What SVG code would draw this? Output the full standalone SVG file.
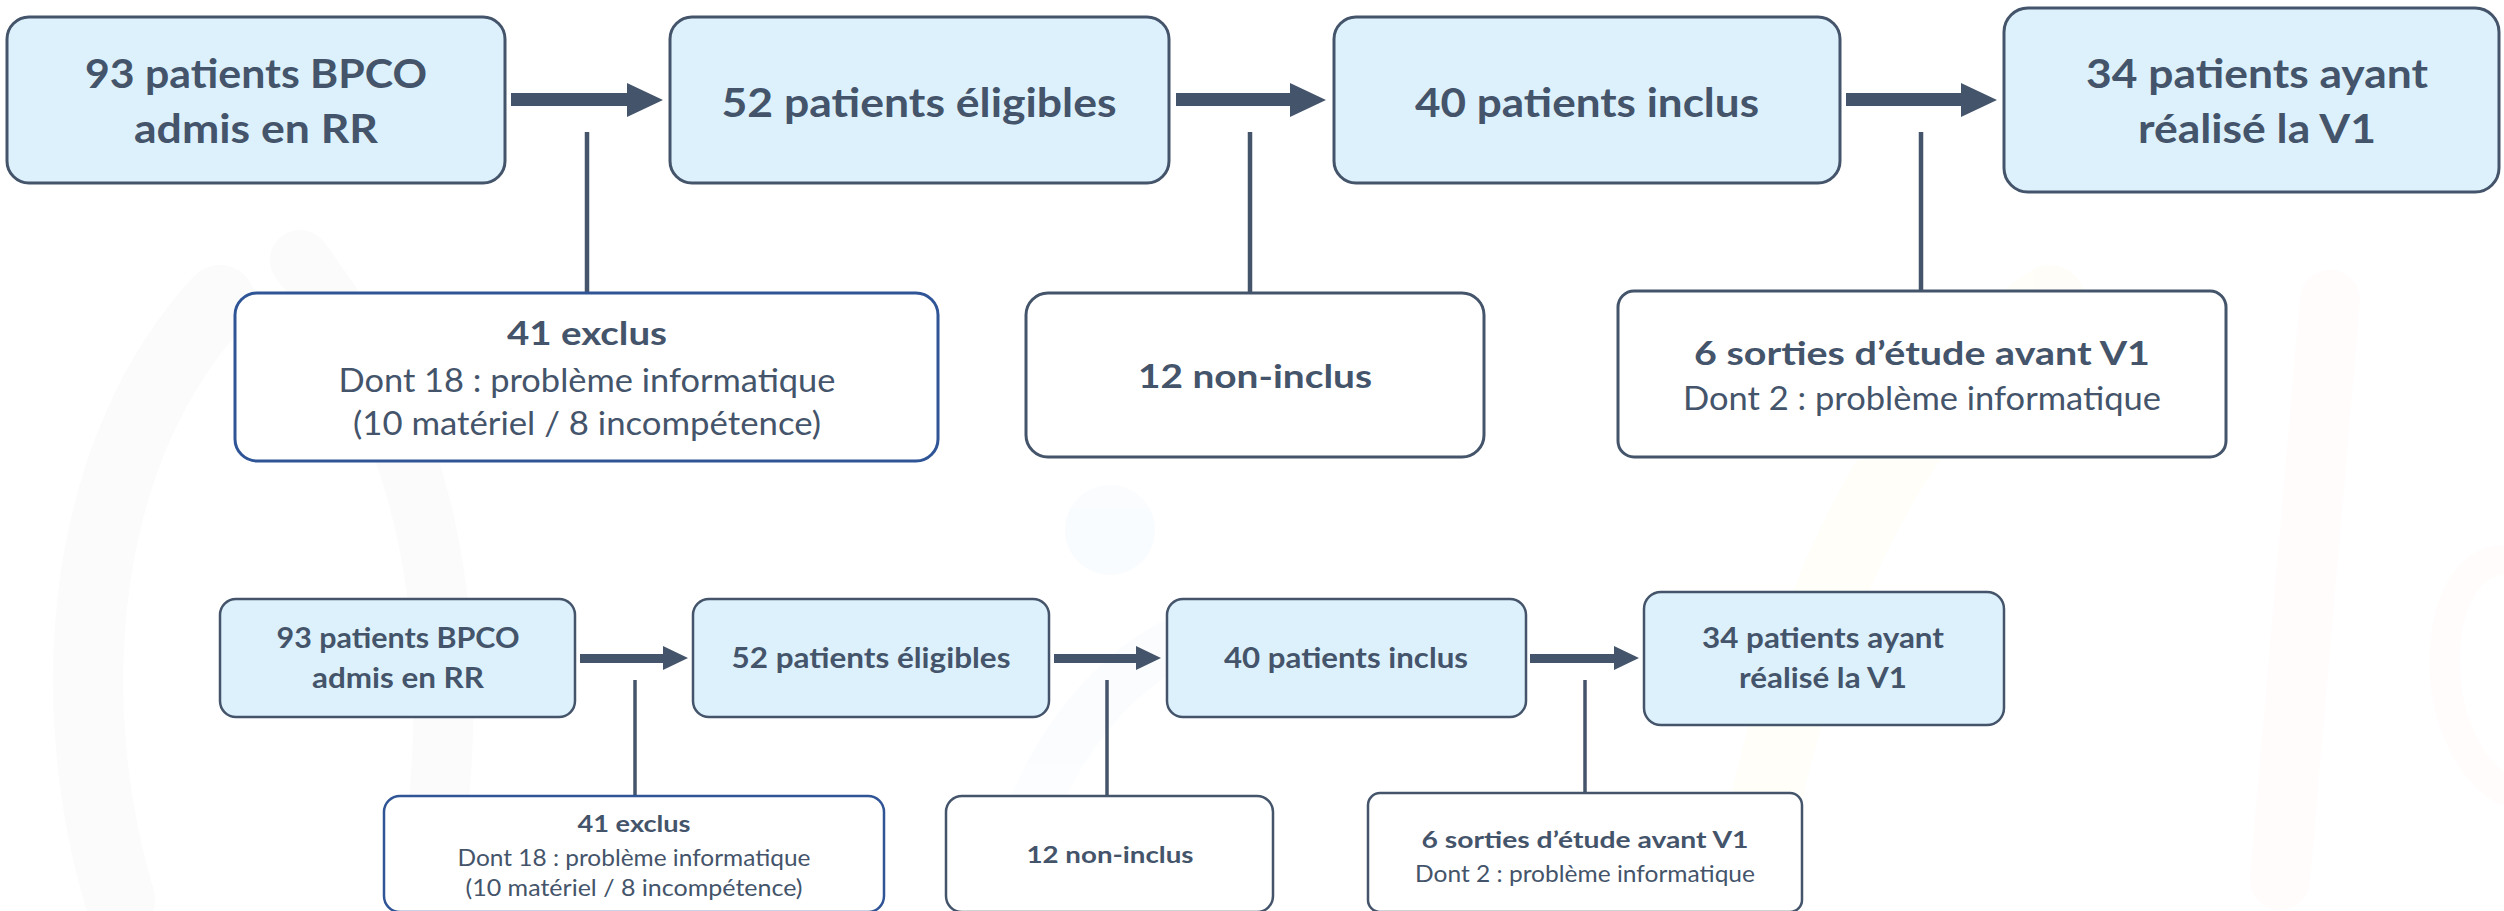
<svg xmlns="http://www.w3.org/2000/svg" width="2504" height="911" viewBox="0 0 2504 911">
<style>
.bg{fill:#ffffff}
.blue{fill:#DDF1FC;stroke:#44546A;stroke-width:3}
.white{fill:#ffffff;stroke:#44546A;stroke-width:3}
.whiteb{fill:#ffffff;stroke:#2F5597;stroke-width:3}
text{font-family:Lato,"Open Sans","Liberation Sans",sans-serif;fill:#44546A;text-anchor:middle}
.b{font-weight:bold}
.t1{font-size:41px}
.t2{font-size:33px}
.s1{font-size:29px}
.s2{font-size:23.5px}
.line{stroke:#44546A;stroke-width:4.5;fill:none}
.arr{fill:#44546A}
.wm{stroke-linecap:round;fill:none}
</style>
<rect class="bg" x="0" y="0" width="2504" height="911"/>
<g id="watermark" opacity="0.3">
<path class="wm" d="M120 900 C 60 700, 80 450, 220 300" stroke="#f2f2f2" stroke-width="70"/>
<path class="wm" d="M300 260 C 420 420, 470 600, 430 880" stroke="#f4f4f4" stroke-width="60"/>
<circle cx="1110" cy="530" r="45" fill="#eef6fd"/>
<path class="wm" d="M1000 900 C 1040 760, 1100 680, 1180 640" stroke="#f1f8fe" stroke-width="50"/>
<path class="wm" d="M1750 880 C 1800 600, 1900 400, 2050 300" stroke="#fffbea" stroke-width="70"/>
<path class="wm" d="M2280 880 L 2330 300" stroke="#fff6f4" stroke-width="60"/>
<path class="wm" d="M2504 560 C 2430 560, 2420 740, 2504 790" stroke="#fff6f4" stroke-width="30"/>
</g>
<g id="connectors">
<line class="line" x1="587" y1="132" x2="587" y2="293"/>
<line class="line" x1="1250" y1="132" x2="1250" y2="293"/>
<line class="line" x1="1921" y1="132" x2="1921" y2="291"/>
<polygon class="arr" points="511,93 627,93 627,83 663,100 627,117 627,106 511,106"/>
<polygon class="arr" points="1176,93 1290,93 1290,83 1326,100 1290,117 1290,106 1176,106"/>
<polygon class="arr" points="1846,93 1961,93 1961,83 1997,100 1961,117 1961,106 1846,106"/>
<line class="line" x1="635" y1="680" x2="635" y2="796" style="stroke-width:3.5"/>
<line class="line" x1="1107" y1="680" x2="1107" y2="796" style="stroke-width:3.5"/>
<line class="line" x1="1585" y1="680" x2="1585" y2="793" style="stroke-width:3.5"/>
<polygon class="arr" points="580,654 663,654 663,646 688,658 663,670 663,663 580,663"/>
<polygon class="arr" points="1054,654 1136,654 1136,646 1161,658 1136,670 1136,663 1054,663"/>
<polygon class="arr" points="1530,654 1614,654 1614,646 1639,658 1614,670 1614,663 1530,663"/>
</g>
<g id="n1">
<rect class="blue" x="7" y="17" width="498" height="166" rx="22"/>
<text class="b t1" x="256" y="88" textLength="342" lengthAdjust="spacingAndGlyphs">93 patients BPCO</text>
<text class="b t1" x="256" y="143" textLength="244" lengthAdjust="spacingAndGlyphs">admis en RR</text>
</g>
<g id="n2">
<rect class="blue" x="670" y="17" width="499" height="166" rx="22"/>
<text class="b t1" x="919" y="117" textLength="395" lengthAdjust="spacingAndGlyphs">52 patients éligibles</text>
</g>
<g id="n3">
<rect class="blue" x="1334" y="17" width="506" height="166" rx="22"/>
<text class="b t1" x="1587" y="117" textLength="344" lengthAdjust="spacingAndGlyphs">40 patients inclus</text>
</g>
<g id="n4">
<rect class="blue" x="2004" y="8" width="495" height="184" rx="24"/>
<text class="b t1" x="2257" y="88" textLength="342" lengthAdjust="spacingAndGlyphs">34 patients ayant</text>
<text class="b t1" x="2257" y="143" textLength="238" lengthAdjust="spacingAndGlyphs">réalisé la V1</text>
</g>
<g id="n5">
<rect class="whiteb" x="235" y="293" width="703" height="168" rx="22"/>
<text class="b t2" x="587" y="345" textLength="160" lengthAdjust="spacingAndGlyphs">41 exclus</text>
<text class="t2" x="587" y="392" textLength="497" lengthAdjust="spacingAndGlyphs">Dont 18 : problème informatique</text>
<text class="t2" x="587" y="435" textLength="468" lengthAdjust="spacingAndGlyphs">(10 matériel / 8 incompétence)</text>
</g>
<g id="n6">
<rect class="white" x="1026" y="293" width="458" height="164" rx="22"/>
<text class="b t2" x="1255" y="388" textLength="234" lengthAdjust="spacingAndGlyphs">12 non-inclus</text>
</g>
<g id="n7">
<rect class="white" x="1618" y="291" width="608" height="166" rx="16"/>
<text class="b t2" x="1922" y="365" textLength="456" lengthAdjust="spacingAndGlyphs">6 sorties d’étude avant V1</text>
<text class="t2" x="1922" y="410" textLength="478" lengthAdjust="spacingAndGlyphs">Dont 2 : problème informatique</text>
</g>
<g id="m1">
<rect class="blue" x="220" y="599" width="355" height="118" rx="16" style="stroke-width:2.5"/>
<text class="b s1" x="398" y="648" textLength="243" lengthAdjust="spacingAndGlyphs">93 patients BPCO</text>
<text class="b s1" x="398" y="688" textLength="172" lengthAdjust="spacingAndGlyphs">admis en RR</text>
</g>
<g id="m2">
<rect class="blue" x="693" y="599" width="356" height="118" rx="16" style="stroke-width:2.5"/>
<text class="b s1" x="871" y="668" textLength="279" lengthAdjust="spacingAndGlyphs">52 patients éligibles</text>
</g>
<g id="m3">
<rect class="blue" x="1167" y="599" width="359" height="118" rx="16" style="stroke-width:2.5"/>
<text class="b s1" x="1346" y="668" textLength="244" lengthAdjust="spacingAndGlyphs">40 patients inclus</text>
</g>
<g id="m4">
<rect class="blue" x="1644" y="592" width="360" height="133" rx="17" style="stroke-width:2.5"/>
<text class="b s1" x="1823" y="648" textLength="242" lengthAdjust="spacingAndGlyphs">34 patients ayant</text>
<text class="b s1" x="1823" y="688" textLength="168" lengthAdjust="spacingAndGlyphs">réalisé la V1</text>
</g>
<g id="m5">
<rect class="whiteb" x="384" y="796" width="500" height="116" rx="16" style="stroke-width:2.5"/>
<text class="b s2" x="634" y="832" textLength="113" lengthAdjust="spacingAndGlyphs">41 exclus</text>
<text class="s2" x="634" y="866" textLength="353" lengthAdjust="spacingAndGlyphs">Dont 18 : problème informatique</text>
<text class="s2" x="634" y="896" textLength="337" lengthAdjust="spacingAndGlyphs">(10 matériel / 8 incompétence)</text>
</g>
<g id="m6">
<rect class="white" x="946" y="796" width="327" height="116" rx="16" style="stroke-width:2.5"/>
<text class="b s2" x="1110" y="863" textLength="167" lengthAdjust="spacingAndGlyphs">12 non-inclus</text>
</g>
<g id="m7">
<rect class="white" x="1368" y="793" width="434" height="119" rx="12" style="stroke-width:2.5"/>
<text class="b s2" x="1585" y="848" textLength="327" lengthAdjust="spacingAndGlyphs">6 sorties d’étude avant V1</text>
<text class="s2" x="1585" y="882" textLength="340" lengthAdjust="spacingAndGlyphs">Dont 2 : problème informatique</text>
</g>
</svg>
